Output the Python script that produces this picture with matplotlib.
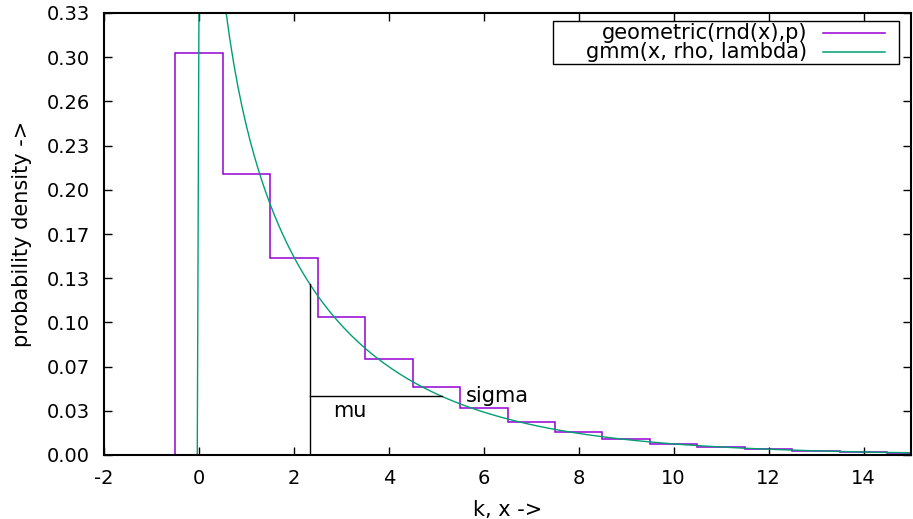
import math
import numpy as np
import matplotlib
matplotlib.use("Agg")
import matplotlib.pyplot as plt
from matplotlib.patches import Rectangle
from matplotlib.lines import Line2D

# ---- data ----
k_values = list(range(0, 16))
geom_probs = [0.300, 0.210, 0.147, 0.1029, 0.0720, 0.0504, 0.0353, 0.0247,
              0.0173, 0.0121, 0.0085, 0.0059, 0.0042, 0.0029, 0.0020, 0.0014]
rho = 0.7
lam = 0.3
mu = 2.3333
sigma = 2.7889
x_min, x_max = -2, 15
y_max = 0.33
y_ticks = [0.0, 0.033, 0.066, 0.099, 0.132, 0.165, 0.198, 0.231, 0.264, 0.297, 0.33]
y_tick_labels = ["0.00", "0.03", "0.07", "0.10", "0.13", "0.17", "0.20", "0.23", "0.26", "0.30", "0.33"]
x_ticks = [-2, 0, 2, 4, 6, 8, 10, 12, 14]
legend_labels = ["geometric(rnd(x),p)", "gmm(x, rho, lambda)"]
purple = "#9400d3"
green = "#009e73"
FS_TICK = 14
FS = 15


def gmm(x, r, l):
    if x < 0:
        return 0.0
    if x == 0:
        return 0.0 if r > 1 else (l if r == 1 else float("inf"))
    return math.exp(r * math.log(l) + (r - 1) * math.log(x) - math.lgamma(r) - l * x)


plt.rcParams["font.family"] = ["DejaVu Sans"]
W, H = 913, 519
fig = plt.figure(figsize=(W / 100, H / 100), dpi=100)
L, R, T, B = 104, 911, 13, 455
ax = fig.add_axes([L / W, 1 - B / H, (R - L) / W, (B - T) / H])

# geometric steps (histeps)
edges = [x_min] + [k - 0.5 for k in k_values] + [x_max]
vals = [0.0] + geom_probs
ax.stairs(vals, edges, color=purple, lw=1.1, baseline=None)

# gamma curve, sampled like gnuplot
xs = np.linspace(x_min, x_max, 200)
ys = np.array([gmm(x, rho, lam) for x in xs])
ax.plot(xs, ys, color=green, lw=1.0)

# mu / sigma annotations
g_mu = gmm(mu, rho, lam)
g_ms = gmm(mu + sigma, rho, lam)
ax.plot([mu, mu], [0, g_mu], color="black", lw=1.0)
ax.plot([mu, mu + sigma], [g_ms, g_ms], color="black", lw=1.0)
ax.text(mu + 0.5, y_max / 10, "mu", ha="left", va="center", fontsize=FS)
ax.text(mu + 0.5 + sigma, g_ms, "sigma", ha="left", va="center", fontsize=FS)

ax.set_xlim(x_min, x_max)
ax.set_ylim(0, y_max)
ax.set_xticks(x_ticks)
ax.set_xticklabels([str(t) for t in x_ticks])
ax.set_yticks(y_ticks)
ax.set_yticklabels(y_tick_labels)
ax.tick_params(direction="in", length=6, width=1, top=True, right=True,
               labelsize=FS_TICK, pad=10)
for s in ax.spines.values():
    s.set_linewidth(1.5)
ax.set_xlabel("k, x ->", fontsize=FS, labelpad=9)
ax.set_ylabel("probability density ->", fontsize=FS, labelpad=11)

# legend (gnuplot style, drawn manually in pixel coordinates)
def px(x, y):
    return (x / W, 1 - y / H)

lx0, ly0, lx1, ly1 = 553, 21, 899, 64
fig.patches.append(Rectangle(px(lx0, ly1), (lx1 - lx0) / W, (ly1 - ly0) / H,
                             transform=fig.transFigure, fill=False,
                             edgecolor="black", lw=1.0, zorder=5))
for i, (lab, col) in enumerate(zip(legend_labels, [purple, green])):
    yy = 33 + i * 19
    fig.text(*px(807, yy), lab, ha="right", va="center", fontsize=FS)
    fig.lines.append(Line2D([823 / W, 885 / W], [1 - yy / H, 1 - yy / H],
                            transform=fig.transFigure, color=col, lw=1.1))

fig.savefig("out.png", dpi=100)
